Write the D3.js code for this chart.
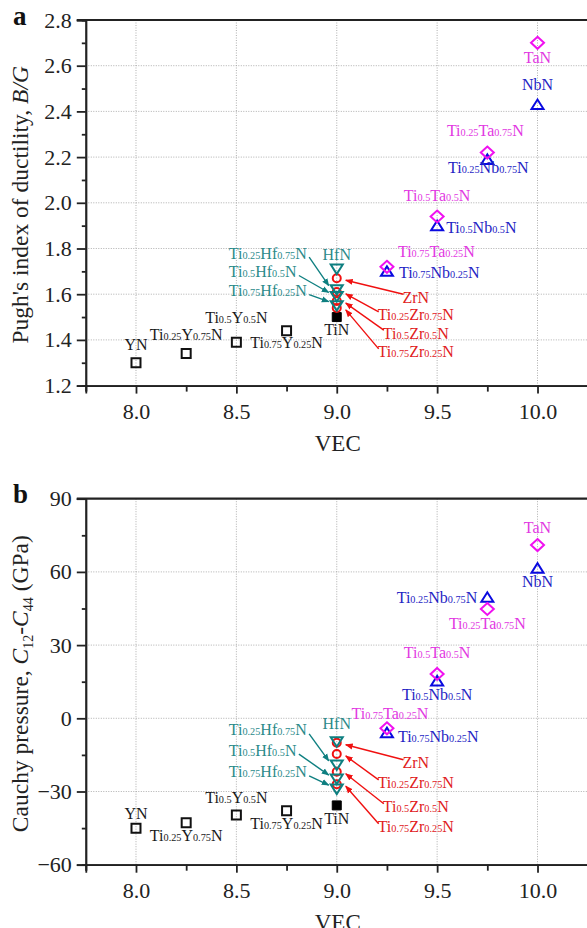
<!DOCTYPE html>
<meta charset="utf-8">
<style>
body { margin: 0; background: #fff; }
svg text { font-family: "Liberation Serif", "Times New Roman", serif; }
.tick text { font-size: 22px; fill: #222; }
.axis path, .axis line { stroke: #222; stroke-width: 1.8px; }
.grid line { stroke: #9a9a9a; stroke-width: 0.8px; stroke-dasharray: 1,1.5; }
</style>
<svg width="587" height="928"></svg>
<script src="https://d3js.org/d3.v7.min.js"></script>
<script>

// ---- data (VEC, Pugh's B/G, Cauchy pressure C12-C44 in GPa) ----
var namesY = ["YN", "Ti0.25Y0.75N", "Ti0.5Y0.5N", "Ti0.75Y0.25N"];
var vecY   = [8.0, 8.25, 8.5, 8.75];
var bgY    = [1.30, 1.34, 1.39, 1.44];
var cpY    = [-45.1, -42.8, -39.6, -37.9];

var namesTiN = ["TiN"];
var vecTiN   = [9.0];
var bgTiN    = [1.50];
var cpTiN    = [-35.7];

var namesZr = ["ZrN", "Ti0.25Zr0.75N", "Ti0.5Zr0.5N", "Ti0.75Zr0.25N"];
var vecZr   = [9.0, 9.0, 9.0, 9.0];
var bgZr    = [1.67, 1.61, 1.57, 1.54];
var cpZr    = [-10.0, -14.6, -21.9, -27.0];

var namesHf = ["HfN", "Ti0.25Hf0.75N", "Ti0.5Hf0.5N", "Ti0.75Hf0.25N"];
var vecHf   = [9.0, 9.0, 9.0, 9.0];
var bgHf    = [1.71, 1.62, 1.59, 1.55];
var cpHf    = [-9.6, -19.1, -24.9, -29.0];

var namesNb = ["NbN", "Ti0.25Nb0.75N", "Ti0.5Nb0.5N", "Ti0.75Nb0.25N"];
var vecNb   = [10.0, 9.75, 9.5, 9.25];
var bgNb    = [2.43, 2.19, 1.90, 1.70];
var cpNb    = [61.5, 49.6, 15.3, -5.9];

var namesTa = ["TaN", "Ti0.25Ta0.75N", "Ti0.5Ta0.5N", "Ti0.75Ta0.25N"];
var vecTa   = [10.0, 9.75, 9.5, 9.25];
var bgTa    = [2.70, 2.22, 1.94, 1.72];
var cpTa    = [71.0, 44.8, 18.2, -4.1];

var xTicks = [8.0, 8.5, 9.0, 9.5, 10.0];
var xMinor = [7.75, 8.25, 8.75, 9.25, 9.75];
var yTicksA = [1.2, 1.4, 1.6, 1.8, 2.0, 2.2, 2.4, 2.6, 2.8];
var yMinorA = [1.3, 1.5, 1.7, 1.9, 2.1, 2.3, 2.5, 2.7];
var yTicksB = [-60, -30, 0, 30, 60, 90];
var yMinorB = [-45, -15, 15, 45, 75];

// ---- styles of the series ----
var series = [
  {names: namesY,   vec: vecY,   a: bgY,   b: cpY,   shape: "square",  fill: false, color: "#111",    text: "#1a1a1a"},
  {names: namesTiN, vec: vecTiN, a: bgTiN, b: cpTiN, shape: "square",  fill: true,  color: "#000",    text: "#1a1a1a"},
  {names: namesZr,  vec: vecZr,  a: bgZr,  b: cpZr,  shape: "circle",  fill: false, color: "#f01010", text: "#e0201c"},
  {names: namesHf,  vec: vecHf,  a: bgHf,  b: cpHf,  shape: "triDown", fill: false, color: "#0e7f80", text: "#2b8a8a"},
  {names: namesNb,  vec: vecNb,  a: bgNb,  b: cpNb,  shape: "triUp",   fill: false, color: "#0a0ae0", text: "#2424c4"},
  {names: namesTa,  vec: vecTa,  a: bgTa,  b: cpTa,  shape: "diamond", fill: false, color: "#f010f0", text: "#e238e2"}
];

// label placement: [dx, dy, anchor] relative to the marker (pixels)
var labA = {
  "YN": [0, -18, "middle"], "Ti0.25Y0.75N": [0, -19, "middle"], "Ti0.5Y0.5N": [0, -24.5, "middle"],
  "Ti0.75Y0.25N": [0, 12, "middle"], "TiN": [0, 12, "middle"], "HfN": [0, -15, "middle"],
  "Ti0.25Hf0.75N": [-108, -36.6, "start"], "Ti0.5Hf0.5N": [-108, -25, "start"], "Ti0.75Hf0.25N": [-108, -15, "start"],
  "ZrN": [79, 19, "middle"], "Ti0.25Zr0.75N": [79, 23, "middle"], "Ti0.5Zr0.5N": [79, 32, "middle"], "Ti0.75Zr0.25N": [79, 44, "middle"],
  "TaN": [0, 15, "middle"], "NbN": [0, -20, "middle"], "Ti0.25Ta0.75N": [-2, -22, "middle"], "Ti0.25Nb0.75N": [1, 8, "middle"],
  "Ti0.5Ta0.5N": [0, -21, "middle"], "Ti0.5Nb0.5N": [9, 2, "start"], "Ti0.75Ta0.25N": [11, -15, "start"], "Ti0.75Nb0.25N": [12, 1, "start"]
};
var labB = {
  "YN": [0, -15, "middle"], "Ti0.25Y0.75N": [0, 13, "middle"], "Ti0.5Y0.5N": [0, -17.6, "middle"],
  "Ti0.75Y0.25N": [0, 12.5, "middle"], "TiN": [0, 13, "middle"], "HfN": [0, -18, "middle"],
  "Ti0.25Hf0.75N": [-108, -35, "start"], "Ti0.5Hf0.5N": [-108, -29, "start"], "Ti0.75Hf0.25N": [-108, -17.3, "start"],
  "ZrN": [79, 20, "middle"], "Ti0.25Zr0.75N": [79, 29, "middle"], "Ti0.5Zr0.5N": [79, 35, "middle"], "Ti0.75Zr0.25N": [79, 42.5, "middle"],
  "TaN": [0, -18, "middle"], "NbN": [0, 13.5, "middle"], "Ti0.25Nb0.75N": [-10, 0, "end"], "Ti0.25Ta0.75N": [0, 15, "middle"],
  "Ti0.5Ta0.5N": [0, -21, "middle"], "Ti0.5Nb0.5N": [0, 14, "middle"], "Ti0.75Ta0.25N": [3, -15, "middle"], "Ti0.75Nb0.25N": [11, 4, "start"]
};
// labels with arrows to the crowded VEC = 9 column
var arrowNames = ["Ti0.25Hf0.75N", "Ti0.5Hf0.5N", "Ti0.75Hf0.25N", "ZrN", "Ti0.25Zr0.75N", "Ti0.5Zr0.5N", "Ti0.75Zr0.25N"];

var svg = d3.select("svg");

var defs = svg.append("defs");
["#0e7f80", "#f01010"].forEach(function(c, i) {
  defs.append("marker")
      .attr("id", "ah" + i)
      .attr("viewBox", "0 0 10 10")
      .attr("refX", 9).attr("refY", 5)
      .attr("markerWidth", 5.5).attr("markerHeight", 5.5)
      .attr("markerUnits", "strokeWidth")
      .attr("orient", "auto")
    .append("path")
      .attr("d", "M0,1L10,5L0,9Z")
      .attr("fill", c);
});

var x = d3.scaleLinear().domain([7.75, 10.25]).range([85.8, 587.7]);

function shapePath(type) {
  var p = d3.path();
  if (type == "square") { p.rect(-4.5, -4.5, 9, 9); }
  else if (type == "circle") { p.arc(0, 0, 4, 0, 2 * Math.PI); }
  else if (type == "triDown") { p.moveTo(-6, -4.5); p.lineTo(6, -4.5); p.lineTo(0, 5); p.closePath(); }
  else if (type == "triUp") { p.moveTo(-6, 4.5); p.lineTo(6, 4.5); p.lineTo(0, -5); p.closePath(); }
  else if (type == "diamond") { p.moveTo(0, -6); p.lineTo(6.5, 0); p.lineTo(0, 6); p.lineTo(-6.5, 0); p.closePath(); }
  return p.toString();
}

function richText(t, name, size) {
  name.split(/(\d+(?:\.\d+)?)/).filter(function(s) { return s.length; }).forEach(function(part) {
    var sub = /^\d/.test(part);
    t.append("tspan").attr("font-size", (sub ? size * 0.64 : size) + "px").text(part);
  });
}

var panels = [
  {key: "a", field: "a", top: 20, bottom: 385.6, domain: [1.2, 2.8], ticks: yTicksA, minor: yMinorA,
   fmt: d3.format(".1f"), labels: labA},
  {key: "b", field: "b", top: 498.7, bottom: 864.7, domain: [-60, 90], ticks: yTicksB, minor: yMinorB,
   fmt: d3.format("d"), labels: labB}
];

panels.forEach(function(P) {
  var y = d3.scaleLinear().domain(P.domain).range([P.bottom, P.top]);
  var g = svg.append("g");

  // grid
  var grid = g.append("g").attr("class", "grid");
  grid.selectAll(".gx").data(xTicks).enter().append("line")
      .attr("x1", x).attr("x2", x).attr("y1", P.top).attr("y2", P.bottom);
  grid.selectAll(".gy").data(P.ticks.slice(1, -1)).enter().append("line")
      .attr("x1", x.range()[0]).attr("x2", x.range()[1])
      .attr("y1", y).attr("y2", y);

  // axes
  g.append("g").attr("class", "axis")
      .attr("transform", "translate(0," + P.bottom + ")")
      .call(d3.axisBottom(x).tickValues(xMinor).tickSize(6).tickFormat(""));
  g.append("g").attr("class", "axis")
      .attr("transform", "translate(0," + P.bottom + ")")
      .call(d3.axisBottom(x).tickValues(xTicks).tickSize(8).tickPadding(10).tickFormat(d3.format(".1f")));
  g.append("g").attr("class", "axis")
      .attr("transform", "translate(" + x.range()[0] + ",0)")
      .call(d3.axisLeft(y).tickValues(P.minor).tickSize(4).tickFormat(""));
  g.append("g").attr("class", "axis")
      .attr("transform", "translate(" + x.range()[0] + ",0)")
      .call(d3.axisLeft(y).tickValues(P.ticks).tickSize(9).tickPadding(5).tickFormat(P.fmt));
  g.selectAll(".axis .domain").attr("stroke-width", 2);
  g.append("line")
      .attr("x1", x.range()[0] - 9).attr("x2", x.range()[1])
      .attr("y1", P.top).attr("y2", P.top)
      .attr("stroke", "#222").attr("stroke-width", 2.2);

  // titles
  g.append("text")
      .attr("x", (x(8) + x(10)) / 2 + 1).attr("y", P.bottom + 65.5)
      .attr("text-anchor", "middle").attr("font-size", "23px").attr("fill", "#222")
      .text("VEC");
  g.append("text")
      .attr("x", 13).attr("y", P.top + 4.5)
      .attr("font-size", "27px").attr("font-weight", "bold").attr("fill", "#111")
      .text(P.key);

  var yt = g.append("text")
      .attr("transform", "translate(28," + ((P.top + P.bottom) / 2 + 2) + ") rotate(-90)")
      .attr("text-anchor", "middle").attr("font-size", "23.5px").attr("fill", "#222");
  if (P.key == "a") {
    yt.append("tspan").text("Pugh's index of ductility, ");
    yt.append("tspan").attr("font-style", "italic").text("B/G");
  } else {
    yt.append("tspan").text("Cauchy pressure, ");
    yt.append("tspan").attr("font-style", "italic").text("C");
    yt.append("tspan").attr("font-size", "14px").attr("dy", 5).text("12");
    yt.append("tspan").attr("dy", -5).text("-");
    yt.append("tspan").attr("font-style", "italic").text("C");
    yt.append("tspan").attr("font-size", "14px").attr("dy", 5).text("44");
    yt.append("tspan").attr("dy", -5).text(" (GPa)");
  }

  // markers
  series.forEach(function(s) {
    g.append("g").selectAll("path")
      .data(s.names.map(function(n, i) { return {name: n, vec: s.vec[i], v: s[P.field][i]}; }))
      .enter().append("path")
        .attr("transform", function(d) { return "translate(" + x(d.vec) + "," + y(d.v) + ")"; })
        .attr("d", shapePath(s.shape))
        .attr("fill", s.fill ? s.color : "none")
        .attr("stroke", s.color)
        .attr("stroke-width", s.fill ? 1 : 2);
  });

  // labels
  series.forEach(function(s) {
    s.names.forEach(function(n, i) {
      var o = P.labels[n];
      var mx = x(s.vec[i]), my = y(s[P.field][i]);
      var t = g.append("text")
          .attr("x", mx + o[0]).attr("y", my + o[1] + 5.5)
          .attr("text-anchor", o[2]).attr("fill", s.text);
      richText(t, n, 16);

      if (arrowNames.indexOf(n) >= 0) {
        var bb = t.node().getBBox();
        var cy = my + o[1];
        var teal = s.shape == "triDown";
        g.append("line")
            .attr("x1", teal ? bb.x + bb.width + 2 : bb.x + 1)
            .attr("y1", teal ? cy + 4 : cy - 3)
            .attr("x2", teal ? mx - 8 : mx + 9)
            .attr("y2", teal ? my - 4 : my + 2)
            .attr("stroke", teal ? "#0e7f80" : "#f01010")
            .attr("stroke-width", 1.4)
            .attr("marker-end", "url(#ah" + (teal ? 0 : 1) + ")");
      }
    });
  });
});

</script>
